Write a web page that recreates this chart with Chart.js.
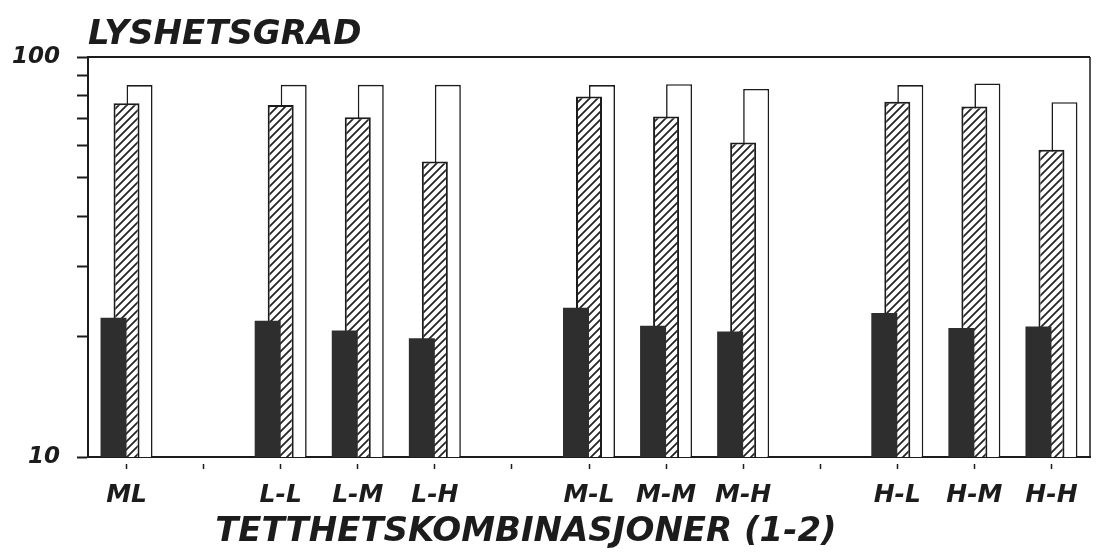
<!DOCTYPE html>
<html>
<head>
<meta charset="utf-8">
<script src="https://cdn.jsdelivr.net/npm/chart.js@4/dist/chart.umd.min.js"></script>
<style>
  html, body { margin: 0; padding: 0; background: #fff; }
  #wrap { width: 1102px; height: 555px; position: relative; }
</style>
</head>
<body>
<div id="wrap"><canvas id="c"></canvas></div>
<script>
// Density combinations (empty strings are spacer slots between groups)
const categories = ['ML', '', 'L-L', 'L-M', 'L-H', '', 'M-L', 'M-M', 'M-H', '', 'H-L', 'H-M', 'H-H'];

// Brightness values per combination, three measurements each
const darkValues    = [22.3, null, 21.9, 20.7, 19.8, null, 23.6, 21.3, 20.6, null, 22.9, 21.0, 21.2];
const hatchedValues = [76.6, null, 75.9, 70.7, 54.8, null, 79.7, 71.0, 61.1, null, 77.3, 75.2, 58.6];
const openValues    = [85.1, null, 85.2, 85.2, 85.2, null, 85.1, 85.5, 83.2, null, 85.1, 85.9, 77.1];

// Logarithmic axis ticks and which of them carry a label
const yTickValues = [10, 20, 30, 40, 50, 60, 70, 80, 90, 100];
const yTickLabels = { 10: '10', 100: '100' };

const titleText = 'LYSHETSGRAD';
const xCaption = 'TETTHETSKOMBINASJONER (1-2)';

const INK = '#1c1c1c';
const FONT = 'DejaVu Sans';

// Diagonal "////" hatch fill
function makeHatch() {
  const s = 8;
  const p = document.createElement('canvas');
  p.width = s; p.height = s;
  const g = p.getContext('2d');
  g.fillStyle = '#fff';
  g.fillRect(0, 0, s, s);
  g.strokeStyle = '#252525';
  g.lineWidth = 1.8;
  g.beginPath();
  g.moveTo(-1, s + 1); g.lineTo(s + 1, -1);
  g.moveTo(-1, 1); g.lineTo(1, -1);
  g.moveTo(s - 1, s + 1); g.lineTo(s + 1, s - 1);
  g.stroke();
  return g.createPattern(p, 'repeat');
}

// Closes the plot frame (top and right edges) and writes the x caption
const framePlugin = {
  id: 'frame',
  afterDatasetsDraw(chart) {
    const { ctx, chartArea: a } = chart;
    ctx.save();
    ctx.strokeStyle = INK;
    ctx.lineWidth = 2;
    ctx.beginPath();
    ctx.moveTo(a.left, a.top);
    ctx.lineTo(a.right, a.top);
    ctx.stroke();
    ctx.lineWidth = 1.5;
    ctx.beginPath();
    ctx.moveTo(a.right, a.top);
    ctx.lineTo(a.right, a.bottom);
    ctx.stroke();
    ctx.restore();
  },
  afterDraw(chart) {
    const { ctx, chartArea: a } = chart;
    ctx.save();
    ctx.font = 'italic bold 34px "' + FONT + '"';
    ctx.fillStyle = INK;
    ctx.textAlign = 'center';
    ctx.textBaseline = 'middle';
    ctx.fillText(xCaption, a.left + a.width * 0.437, a.bottom + 75);
    ctx.restore();
  }
};

const hatch = makeHatch();

new Chart(document.getElementById('c'), {
  type: 'bar',
  data: {
    labels: categories,
    datasets: [
      { label: 'a', data: darkValues, backgroundColor: '#2e2e2e', borderColor: '#2e2e2e', borderWidth: 0 },
      { label: 'b', data: hatchedValues, backgroundColor: hatch, borderColor: INK, borderWidth: 2 },
      { label: 'c', data: openValues, backgroundColor: '#ffffff', borderColor: INK, borderWidth: 1.6 }
    ]
  },
  options: {
    responsive: true,
    maintainAspectRatio: false,
    animation: false,
    events: [],
    datasets: {
      bar: { categoryPercentage: 0.506, barPercentage: 2.0 }
    },
    layout: { padding: { left: 12, right: 12, top: 0, bottom: 46 } },
    plugins: {
      legend: { display: false },
      tooltip: { enabled: false },
      title: {
        display: true,
        text: titleText,
        align: 'start',
        fullSize: false,
        color: INK,
        font: { family: FONT, size: 34, weight: 'bold', style: 'italic', lineHeight: 1.1 },
        padding: { top: 16, bottom: 3.6 }
      }
    },
    scales: {
      x: {
        type: 'category',
        offset: true,
        grid: {
          offset: false,
          drawOnChartArea: false,
          drawTicks: true,
          tickLength: 12,
          tickWidth: 1.5,
          tickColor: INK,
          tickBorderDash: [0, 6, 6, 40]
        },
        border: { display: true, color: INK, width: 2 },
        ticks: {
          autoSkip: false,
          maxRotation: 0,
          minRotation: 0,
          padding: 11,
          color: INK,
          font: { family: FONT, size: 25, weight: 'bold', style: 'italic' }
        },
        afterFit(scale) { scale.height = 52; }
      },
      y: {
        type: 'logarithmic',
        min: 10,
        max: 100,
        afterBuildTicks(scale) {
          scale.ticks = yTickValues.map(v => ({ value: v, major: v === 10 || v === 100 }));
        },
        grid: {
          drawOnChartArea: false,
          drawTicks: true,
          tickLength: 11,
          tickWidth: 2,
          tickColor: INK
        },
        border: { display: true, color: INK, width: 2 },
        ticks: {
          padding: 17,
          color: INK,
          font: { family: FONT, size: 23, weight: 'bold', style: 'italic' },
          callback(value) { return yTickLabels[value] || ''; }
        },
        afterFit(scale) { scale.width = 76; }
      }
    }
  },
  plugins: [framePlugin]
});
</script>
</body>
</html>
